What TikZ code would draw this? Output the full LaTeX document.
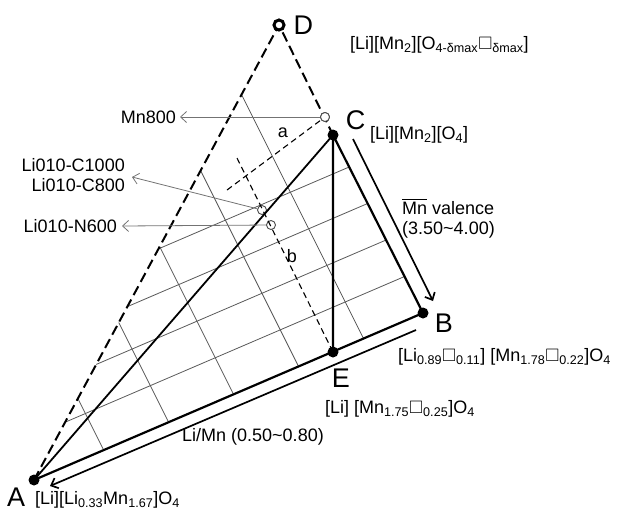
\documentclass[tikz,border=0pt]{standalone}
\usepackage{fontspec}
\setmainfont{Liberation Sans}
\usepackage{amsmath}
\usepackage{amssymb}
\usetikzlibrary{positioning,calc,arrows.meta}

\begin{document}
\begin{tikzpicture}[x=1pt,y=-1pt,>={Straight Barb[length=6pt,width=11pt]},
    font=\fontsize{18}{20}\selectfont,
    dot/.style={circle,fill=black,inner sep=0pt,minimum size=11pt},
    ring/.style={circle,draw,line width=3pt,fill=white,inner sep=0pt,minimum size=10pt},
    sample/.style={circle,draw=black!70,line width=0.9pt,fill=white,inner sep=0pt,minimum size=9pt},
    gridline/.style={black!65,line width=0.8pt},
    edge/.style={line width=2.2pt},
    bigdash/.style={line width=2pt,dash pattern=on 10pt off 5pt},
    guide/.style={line width=1.1pt,dash pattern=on 6pt off 4pt},
    pointer/.style={->,black!55,line width=0.8pt},
    corner/.style={font=\fontsize{27}{30}\selectfont,inner sep=1pt},
    formula/.style={inner sep=0pt}]
  \useasboundingbox (0,0) rectangle (624,515);
  % corners of the composition triangle
  \coordinate (A) at (34,480);
  \coordinate (B) at (423,313);
  \coordinate (C) at (333,135);
  \coordinate (D) at (279,25);
  \coordinate (E) at (333,352);
  % oblique grid inside A-B-D
  \foreach \k [evaluate=\k as \t using \k*0.127] in {1,...,4}
    \draw[gridline] ($(A)!\t!(D)$) -- ($(B)!\t!(D)$);
  \foreach \k [evaluate=\k as \s using 0.012+\k*0.167] in {1,...,5}
    \draw[gridline] ($(A)!\s!(D)$) -- ($(A)!\s!(B)$);
  % samples
  \node[sample] (m800) at (325,117) {};
  \node[sample] (c1000) at (262,210) {};
  \node[sample] (n600) at (271,225) {};
  % construction lines a and b
  \coordinate (aend) at (227,190);
  \coordinate (bend) at (237,158);
  \draw[guide] (aend) -- (m800);
  \draw[guide] (bend) -- (E);
  % triangle edges
  \draw[bigdash] (A) -- (D) -- (C);
  \draw[edge] (A) -- (B) -- (C) -- (E);
  \draw[edge,line width=1.8pt] (A) -- (C);
  % direction arrows
  \coordinate (vtop) at (353,139);
  \coordinate (vbot) at (433,301);
  \draw[line width=1.7pt,->] (vtop) -- (vbot);
  \coordinate (lright) at (416,330);
  \coordinate (lleft) at (50,486);
  \draw[line width=1.7pt,->] (lright) -- (lleft);
  % end members
  \node[dot] (Adot) at (A) {};
  \node[dot] (Bdot) at (B) {};
  \node[dot] (Cdot) at (C) {};
  \node[dot] (Edot) at (E) {};
  \node[ring] (Dring) at (D) {};
  \node[sample] at (m800) {};
  \node[corner,right=7pt of Dring] (Dlbl) {D};
  \node[corner,right=6pt of Cdot,yshift=15pt] (Clbl) {C};
  \node[corner,right=5pt of Bdot,yshift=-10pt] (Blbl) {B};
  \node[corner,below=10pt of Edot,xshift=8pt] (Elbl) {E};
  \node[corner,left=2pt of Adot,yshift=-17pt] (Albl) {A};
  % compositions
  \node[formula,anchor=west] (fD) at (350,45) {[Li][Mn\textsubscript{2}][O\textsubscript{4-δmax}$\square$\textsubscript{δmax}]};
  \node[formula,anchor=west] (fC) at (370,135) {[Li][Mn\textsubscript{2}][O\textsubscript{4}]};
  \node[formula,anchor=west] (fB) at (398,357) {[Li\textsubscript{0.89}$\square$\textsubscript{0.11}] [Mn\textsubscript{1.78}$\square$\textsubscript{0.22}]O\textsubscript{4}};
  \node[formula,anchor=west] (fE) at (325,409) {[Li] [Mn\textsubscript{1.75}$\square$\textsubscript{0.25}]O\textsubscript{4}};
  \node[formula,anchor=west] (fA) at (35,500) {[Li][Li\textsubscript{0.33}Mn\textsubscript{1.67}]O\textsubscript{4}};
  \node[formula,anchor=west,align=left] (val) at (402,218) {$\overline{\mbox{Mn}}$ valence\\(3.50\textasciitilde4.00)};
  \node[formula] (ratio) at (253,437) {Li/Mn (0.50\textasciitilde0.80)};
  % sample labels
  \node[formula,anchor=east] (t800) at (176,117) {Mn800};
  \node[formula,anchor=east,align=right] (tC) at (125,175) {Li010-C1000\\Li010-C800};
  \node[formula,anchor=east] (t600) at (117,226) {Li010-N600};
  \draw[pointer] (m800) -- ([xshift=4pt]t800.east);
  \draw[pointer] (c1000) -- ([xshift=7pt,yshift=-2pt]tC.east);
  \draw[pointer] (n600) -- ([xshift=5pt]t600.east);
  \node (alab) at (283,133) {a};
  \node (blab) at (292,256) {b};
\end{tikzpicture}
\end{document}
